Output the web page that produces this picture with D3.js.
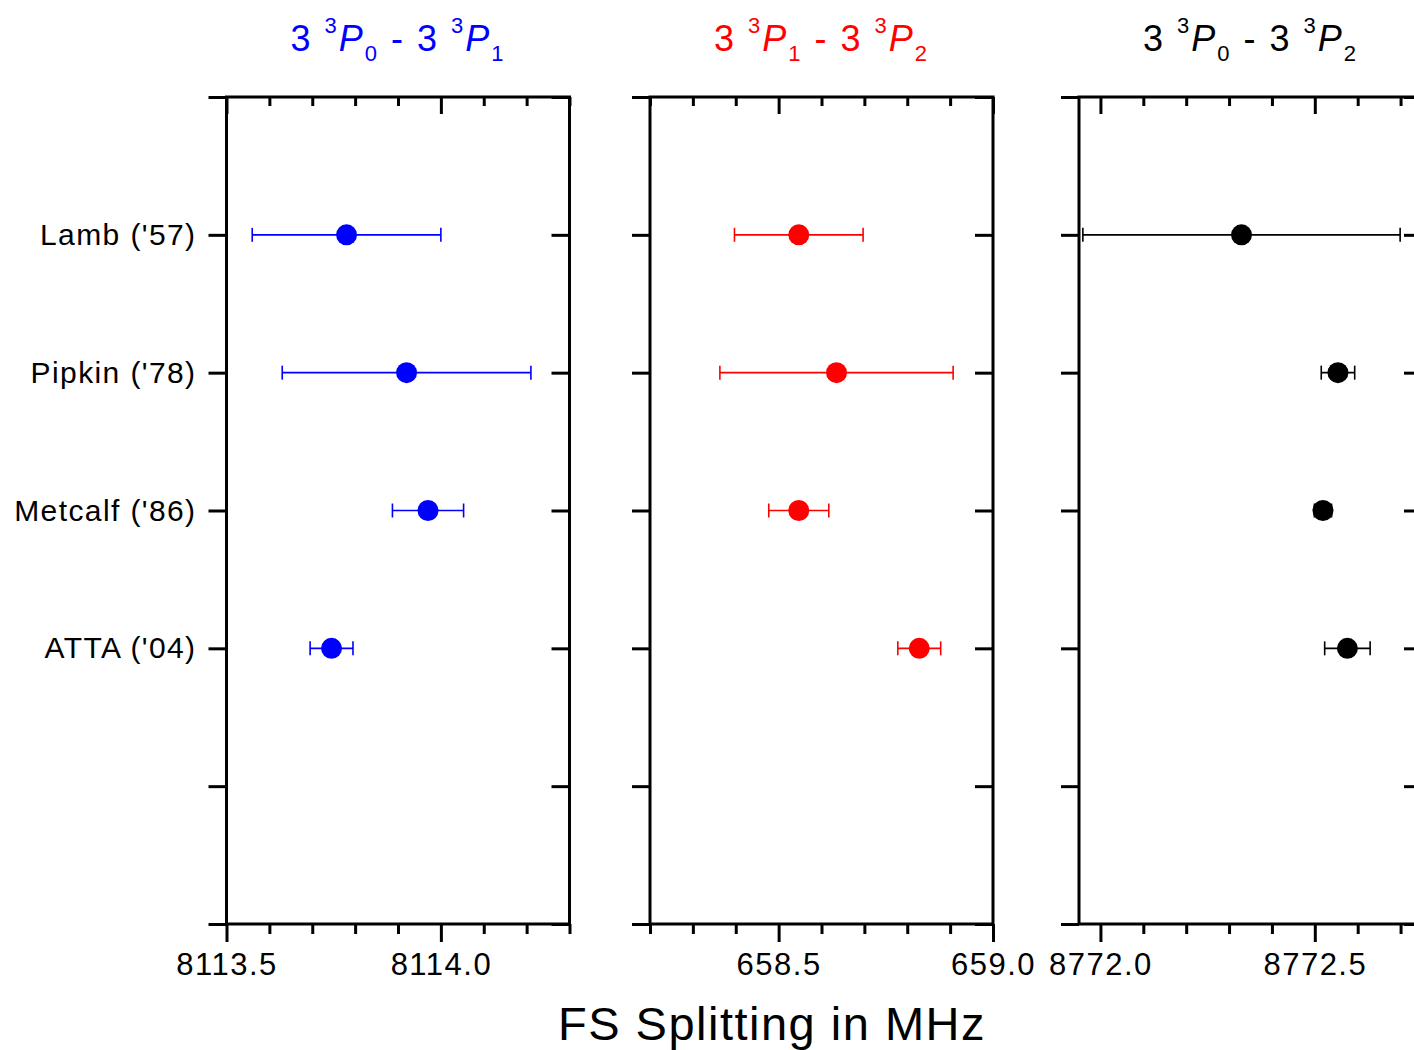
<!DOCTYPE html>
<html>
<head>
<meta charset="utf-8">
<script src="https://cdn.jsdelivr.net/npm/d3@7"></script>
<style>
  body { margin: 0; background: #fff; }
  svg text { font-family: "Liberation Sans", Arial, sans-serif; }
</style>
</head>
<body>
<div class="fs_chart"></div>
<script>
// experiments, top to bottom
var experiments = ["Lamb ('57)", "Pipkin ('78)", "Metcalf ('86)", "ATTA ('04)"];

// 3 3P0 - 3 3P1 (MHz)
var p01Values = [8113.78, 8113.92, 8113.97, 8113.745];
var p01Errors = [0.22, 0.29, 0.083, 0.05];

// 3 3P1 - 3 3P2 (MHz)
var p12Values = [658.547, 658.635, 658.547, 658.828];
var p12Errors = [0.15, 0.272, 0.07, 0.05];

// 3 3P0 - 3 3P2 (MHz)
var p02Values = [8772.329, 8772.554, 8772.519, 8772.576];
var p02Errors = [0.37, 0.039, 0.02, 0.053];

var panels = [
  {lo: 0, hi: 1, color: "#0000ff", domain: [8113.5, 8114.3],
   major: [8113.5, 8114.0], minor: [8113.6, 8113.7, 8113.8, 8113.9, 8114.1, 8114.2, 8114.3],
   values: p01Values, errors: p01Errors},
  {lo: 1, hi: 2, color: "#ff0000", domain: [658.2, 659.0],
   major: [658.5, 659.0], minor: [658.2, 658.3, 658.4, 658.6, 658.7, 658.8, 658.9],
   values: p12Values, errors: p12Errors},
  {lo: 0, hi: 2, color: "#000000", domain: [8771.95, 8772.75],
   major: [8772.0, 8772.5], minor: [8772.1, 8772.2, 8772.3, 8772.4, 8772.6, 8772.7],
   values: p02Values, errors: p02Errors}
];

var width = 1414, height = 1050;
var top_ = 97, bottom = 924, panelW = 343;
var lefts = [226.5, 650, 1079];

var svg = d3.select(".fs_chart").append("svg")
  .attr("width", width)
  .attr("height", height);

var y = d3.scaleLinear().domain([0, 6]).range([top_, bottom]);

panels.forEach(function (p, i) {
  var x0 = lefts[i];
  var x = d3.scaleLinear().domain(p.domain).range([0, panelW]);
  var g = svg.append("g").attr("transform", "translate(" + x0 + ",0)");

  // bottom axis: minor + major (outward)
  g.append("g")
    .attr("transform", "translate(0," + bottom + ")")
    .call(d3.axisBottom(x).tickValues(p.minor).tickSize(10).tickFormat(""));
  g.append("g")
    .attr("class", "xmajor")
    .attr("transform", "translate(0," + bottom + ")")
    .call(d3.axisBottom(x).tickValues(p.major).tickSize(18).tickPadding(11)
      .tickFormat(d3.format(".1f")));

  // top axis: ticks pointing inward
  g.append("g")
    .attr("transform", "translate(0," + top_ + ")")
    .call(d3.axisTop(x).tickValues(p.minor).tickSize(-9).tickFormat(""));
  g.append("g")
    .attr("transform", "translate(0," + top_ + ")")
    .call(d3.axisTop(x).tickValues(p.major).tickSize(-17).tickFormat(""));

  // left axis: outward, labels only on first panel
  var yl = d3.axisLeft(y).tickValues([0, 1, 2, 3, 4, 5, 6]).tickSize(18).tickPadding(12)
    .tickFormat(function (d) { return (i === 0 && d >= 1 && d <= 4) ? experiments[d - 1] : ""; });
  g.append("g").attr("class", "yleft").call(yl);

  // right axis: inward
  g.append("g")
    .attr("transform", "translate(" + panelW + ",0)")
    .call(d3.axisRight(y).tickValues([0, 1, 2, 3, 4, 5, 6]).tickSize(-18).tickFormat(""));

  g.selectAll(".domain").remove();
  g.selectAll(".tick line").attr("stroke", "#000").attr("stroke-width", 3);
  g.selectAll(".tick text")
    .attr("fill", "#000")
    .style("font-size", "31px")
    .style("letter-spacing", "1.5px");
  g.selectAll(".yleft .tick text")
    .style("font-size", "30px")
    .style("letter-spacing", "1.4px");

  // frame
  g.append("rect")
    .attr("x", 0).attr("y", top_)
    .attr("width", panelW).attr("height", bottom - top_)
    .attr("fill", "none").attr("stroke", "#000").attr("stroke-width", 3);

  // error bars
  var pts = p.values.map(function (v, k) { return {v: v, e: p.errors[k], row: k + 1}; });
  var eb = g.append("g").attr("stroke", p.color).attr("stroke-width", 1.6).attr("fill", "none");
  eb.selectAll("line.bar").data(pts).enter().append("line")
    .attr("class", "bar")
    .attr("x1", function (d) { return x(d.v - d.e); })
    .attr("x2", function (d) { return x(d.v + d.e); })
    .attr("y1", function (d) { return y(d.row); })
    .attr("y2", function (d) { return y(d.row); });
  [-1, 1].forEach(function (s) {
    eb.selectAll("line.cap" + (s + 1)).data(pts).enter().append("line")
      .attr("class", "cap" + (s + 1))
      .attr("x1", function (d) { return x(d.v + s * d.e); })
      .attr("x2", function (d) { return x(d.v + s * d.e); })
      .attr("y1", function (d) { return y(d.row) - 7; })
      .attr("y2", function (d) { return y(d.row) + 7; });
  });
  g.append("g").selectAll("circle").data(pts).enter().append("circle")
    .attr("cx", function (d) { return x(d.v); })
    .attr("cy", function (d) { return y(d.row); })
    .attr("r", 10.5)
    .attr("fill", p.color);

  // title: 3 3P_lo - 3 3P_hi
  var t = svg.append("text")
    .attr("x", x0 + panelW / 2)
    .attr("y", 51)
    .attr("text-anchor", "middle")
    .attr("fill", p.color)
    .style("font-size", "36px")
    .style("letter-spacing", "2px");
  function level(lo) {
    t.append("tspan").text("3 ");
    t.append("tspan").attr("dy", -18).style("font-size", "22px").text("3");
    t.append("tspan").attr("dy", 18).style("font-style", "italic").text("P");
    t.append("tspan").attr("dy", 10).style("font-size", "22px").text(lo);
  }
  level(p.lo);
  t.append("tspan").attr("dy", -10).text(" - ");
  level(p.hi);
});

svg.append("text")
  .attr("x", 772)
  .attr("y", 1040)
  .attr("text-anchor", "middle")
  .style("font-size", "47px")
  .style("letter-spacing", "1.5px")
  .text("FS Splitting in MHz");
</script>
</body>
</html>
